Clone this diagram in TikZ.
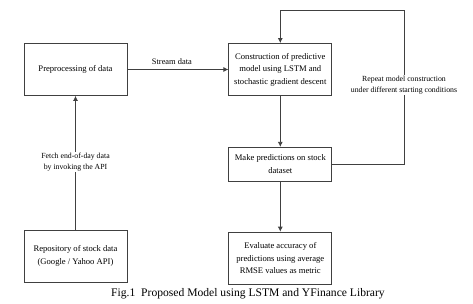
\documentclass[tikz,border=0pt]{standalone}
\usepackage{fontspec}
\setmainfont{Liberation Serif}
\usetikzlibrary{positioning,arrows.meta}

\begin{document}
\begin{tikzpicture}[x=1pt, y=-1pt, node distance=50pt, line width=0.8pt,
  box/.style={draw=black!75, align=center, font=\fontsize{8.6}{12.5}\selectfont, minimum width=103pt, minimum height=52pt, inner sep=2pt},
  lbl/.style={fill=white, align=center, font=\fontsize{7.8}{11}\selectfont, inner sep=1pt},
  flow/.style={draw=black!75, -{Latex[length=5pt,width=5pt]}}]
\useasboundingbox (0,0) rectangle (473,304);
\node[box] (pre) at (75.5,69.5) {Preprocessing of data};
\node[box, right=101pt of pre] (con) {Construction of predictive\\model using LSTM and\\stochastic gradient descent};
\node[box, minimum height=34pt, below=51pt of con] (pred) {Make predictions on stock\\dataset};
\node[box, below=50pt of pred] (eval) {Evaluate accuracy of\\predictions using average\\RMSE values as metric};
\node[box] (repo) at (75.5,256) {Repository of stock data\\(Google / Yahoo API)};
\coordinate (loop) at (404,10);
\draw[flow] (pre) -- node[midway, above=1pt, xshift=-6pt, font=\fontsize{8.4}{10}\selectfont, name=lblstream] {Stream data} (con);
\draw[flow] (con) -- (pred);
\draw[flow] (pred) -- (eval);
\draw[flow] (repo) -- (pre);
\draw[flow] (pred.east) -| (loop) -| (con.north);
\node[lbl] (lblfetch) at (75.5,162) {Fetch end-of-day data\\by invoking the API};
\node[lbl] (lblrepeat) at (404,85) {Repeat model construction\\under different starting conditions};
\node[font=\fontsize{11.6}{13}\selectfont] (caption) at (248,293.5) {Fig.1\ \ Proposed Model using LSTM and YFinance Library};
\end{tikzpicture}
\end{document}
